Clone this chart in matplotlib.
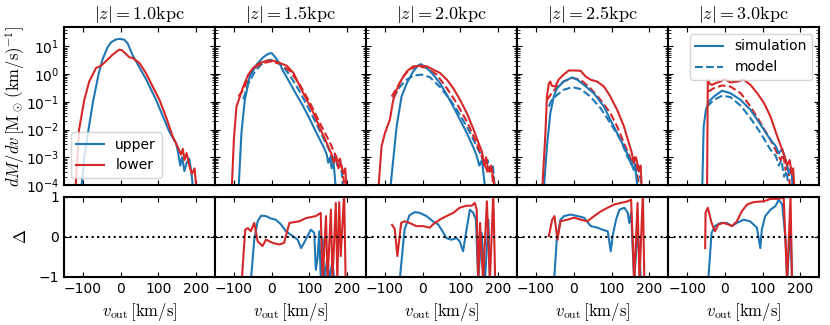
import numpy as np
import matplotlib
matplotlib.use('Agg')
import matplotlib.pyplot as plt

plt.rcParams['mathtext.fontset'] = 'cm'

# |z| of each column
heights = ['1.0', '1.5', '2.0', '2.5', '3.0']

# top row: (v_out [km/s], log10 dM/dv)
up_sim_10 = [(-105, -4.3), (-96, -2.98), (-85, -2.01), (-73, -1.0), (-58, 0.01), (-48, 0.52), (-35, 0.95),
             (-25, 1.15), (-12, 1.25), (-2, 1.27), (10, 1.24), (19, 1.1), (32, 0.68), (68, -0.2), (94, -0.93),
             (116, -1.65), (129, -2.07), (147, -2.5), (152, -2.8), (158, -3.3), (163, -3.0), (169, -3.5),
             (175, -3.2), (182, -3.05), (188, -3.6), (193, -4.3)]
low_sim_10 = [(-120, -4.3), (-110, -2.01), (-96, -0.93), (-83, -0.27), (-65, 0.22), (-52, 0.30), (-39, 0.46),
              (-21, 0.70), (-4, 0.88), (4, 0.86), (10, 0.78), (23, 0.61), (32, 0.58), (50, 0.40), (67, 0.04),
              (85, -0.45), (103, -0.93), (120, -1.53), (138, -2.25), (151, -2.61), (160, -2.9), (165, -2.7),
              (169, -3.1), (175, -2.85), (182, -3.3), (189, -3.6), (196, -3.4), (202, -4.3)]

up_sim_15 = [(-88, -4.3), (-80, -2.13), (-71, -0.93), (-58, -0.08), (-40, 0.34), (-22, 0.61), (-9, 0.73),
             (0, 0.76), (9, 0.62), (22, 0.36), (31, 0.10), (49, -0.33), (66, -0.75), (84, -1.17), (102, -1.65),
             (119, -2.13), (137, -2.61), (146, -2.9), (150, -3.2), (155, -3.0), (159, -3.4), (164, -3.2),
             (168, -3.8), (171, -4.3)]
up_mod_15 = [(-75, -0.9), (-62, -0.35), (-44, 0.1), (-27, 0.35), (-9, 0.5), (4, 0.52), (18, 0.42), (35, 0.2),
             (53, -0.15), (71, -0.55), (88, -0.98), (106, -1.45), (124, -1.95), (142, -2.45), (155, -2.8),
             (162, -3.2), (168, -2.9), (174, -3.3), (181, -3.1), (186, -3.6), (190, -4.3)]
low_sim_15 = [(-106, -4.3), (-100, -2.37), (-93, -1.17), (-84, -0.81), (-75, -0.45), (-62, -0.02), (-49, 0.22),
              (-31, 0.40), (-13, 0.48), (4, 0.48), (22, 0.40), (40, 0.30), (58, 0.04), (75, -0.45), (93, -0.93),
              (111, -1.41), (128, -1.95), (146, -2.49), (159, -2.9), (165, -3.2), (171, -2.95), (177, -3.4),
              (183, -3.2), (190, -3.6), (195, -3.4), (199, -4.3)]
low_mod_15 = [(-88, -0.81), (-75, -0.57), (-58, -0.02), (-40, 0.28), (-22, 0.40), (0, 0.46), (22, 0.36),
              (49, 0.10), (75, -0.39), (102, -1.05), (128, -1.77), (155, -2.49), (168, -2.9), (174, -3.2),
              (181, -3.05), (188, -3.5), (195, -4.3)]

up_sim_20 = [(-87, -4.3), (-78, -3.1), (-69, -1.89), (-56, -0.81), (-42, -0.33), (-25, 0.10), (-12, 0.31),
             (-5, 0.36), (11, 0.22), (28, -0.02), (46, -0.33), (64, -0.75), (81, -1.17), (99, -1.65),
             (117, -2.13), (135, -2.67), (143, -2.95), (150, -3.3), (157, -3.1), (161, -3.6), (167, -4.3)]
up_mod_20 = [(-78, -0.87), (-60, -0.45), (-42, -0.20), (-25, -0.06), (-3, -0.02), (19, -0.11), (46, -0.47),
             (73, -0.93), (99, -1.47), (126, -2.13), (143, -2.61), (157, -3.0), (165, -3.3), (172, -3.1),
             (179, -3.5), (186, -3.3), (192, -4.3)]
low_sim_20 = [(-118, -4.3), (-109, -2.61), (-100, -2.13), (-87, -1.65), (-78, -0.93), (-69, -0.57), (-56, -0.20),
              (-42, 0.10), (-25, 0.28), (-7, 0.30), (11, 0.28), (28, 0.16), (46, 0.04), (64, -0.20), (81, -0.51),
              (99, -0.93), (117, -1.41), (135, -2.01), (148, -2.49), (157, -2.8), (163, -3.3), (168, -3.0),
              (174, -3.5), (181, -3.3), (188, -3.8), (192, -4.3)]
low_mod_20 = [(-82, -0.81), (-69, -0.51), (-51, -0.08), (-34, 0.18), (-12, 0.28), (11, 0.22), (37, -0.02),
              (64, -0.51), (90, -1.05), (117, -1.71), (139, -2.37), (157, -2.98), (165, -3.3), (174, -3.6),
              (183, -3.4), (188, -4.3)]

up_sim_25 = [(-80, -4.3), (-71, -2.61), (-62, -1.41), (-53, -0.81), (-44, -0.51), (-27, -0.27), (-4, -0.12),
             (9, -0.2), (27, -0.39), (53, -0.69), (80, -1.17), (97, -1.65), (115, -2.13), (133, -2.61),
             (146, -3.0), (152, -3.25), (159, -3.1), (165, -3.6), (170, -4.3)]
up_mod_25 = [(-66, -1.17), (-58, -0.93), (-44, -0.75), (-27, -0.57), (-4, -0.47), (18, -0.54), (44, -0.81),
             (71, -1.23), (97, -1.77), (124, -2.37), (142, -2.98), (152, -3.2), (159, -3.46), (168, -3.3),
             (177, -3.8), (181, -4.3)]
low_sim_25 = [(-84, -4.3), (-75, -2.13), (-71, -0.81), (-66, -0.33), (-62, -0.27), (-58, -0.42), (-49, -0.45),
              (-40, -0.20), (-27, -0.02), (-13, 0.13), (0, 0.13), (18, 0.12), (31, -0.08), (44, -0.20),
              (62, -0.27), (80, -0.45), (97, -0.81), (115, -1.29), (133, -1.89), (146, -2.49), (153, -2.8),
              (159, -3.2), (165, -3.0), (173, -3.5), (177, -3.3), (181, -4.3)]
low_mod_25 = [(-71, -0.93), (-58, -0.69), (-44, -0.45), (-27, -0.27), (-4, -0.14), (18, -0.20), (44, -0.51),
              (71, -0.93), (97, -1.41), (115, -1.89), (133, -2.49), (146, -2.9), (155, -3.2), (161, -3.0),
              (168, -3.6), (175, -4.3)]

up_sim_30 = [(-60, -4.3), (-56, -1.89), (-50, -1.29), (-42, -0.99), (-29, -0.81), (-7, -0.60), (15, -0.69),
             (42, -0.93), (68, -1.29), (95, -1.83), (121, -2.37), (135, -2.6), (143, -2.86), (152, -2.7),
             (161, -3.1), (170, -3.58), (176, -3.4), (181, -4.3)]
up_mod_30 = [(-47, -1.17), (-29, -0.93), (-7, -0.78), (15, -0.83), (42, -1.14), (68, -1.59), (95, -2.13),
             (121, -2.73), (135, -2.95), (143, -3.3), (150, -3.1), (157, -3.7), (164, -3.5), (170, -4.3)]
low_sim_30 = [(-47, -4.3), (-45, -0.2), (-40, -0.35), (-34, -0.39), (-25, -0.33), (-12, -0.27), (-1, -0.18),
              (15, -0.30), (33, -0.27), (50, -0.20), (68, -0.39), (86, -0.69), (104, -1.05), (121, -1.53),
              (139, -2.25), (152, -2.73), (159, -3.0), (165, -3.3), (172, -3.1), (177, -3.6), (181, -3.4),
              (185, -4.3)]
low_mod_30 = [(-44, -0.63), (-29, -0.51), (-7, -0.41), (15, -0.45), (42, -0.69), (68, -1.17), (95, -1.77),
              (121, -2.37), (139, -2.86), (148, -3.1), (155, -2.9), (161, -3.46), (168, -3.3), (174, -4.3)]

# bottom row: (v_out, Delta)
up_delta_15 = [(-55, -1.1), (-46, -0.07), (-37, 0.39), (-28, 0.53), (-15, 0.52), (-2, 0.46), (11, 0.43),
               (25, 0.31), (38, 0.14), (56, 0.02), (69, -0.07), (78, -0.28), (86, -0.15), (95, 0.02),
               (104, 0.18), (113, 0.1), (117, -0.82), (122, -0.5), (126, 0.14), (130, -1.0), (135, -0.03),
               (139, -1.1), (148, -0.5), (152, -1.1), (161, -0.6), (166, -1.1)]
low_delta_15 = [(-79, -1.1), (-70, 0.18), (-63, 0.22), (-55, 0.14), (-46, 0.35), (-37, -0.11), (-24, -0.23),
                (-15, -0.07), (3, -0.15), (20, -0.19), (33, -0.15), (47, 0.35), (73, 0.39), (91, 0.47),
                (117, 0.52), (130, 0.6), (135, -1.1), (144, 0.52), (148, -1.1), (157, 0.68), (161, -1.1),
                (170, 0.85), (174, -1.1), (179, 0.87), (183, -0.48), (192, 1.1), (196, -1.1)]
up_delta_20 = [(-61, -1.1), (-48, 0.18), (-35, 0.54), (-21, 0.62), (-8, 0.6), (10, 0.52), (27, 0.39),
               (41, 0.31), (50, 0.18), (63, -0.03), (76, -0.07), (90, -0.03), (98, -0.11), (107, -0.36),
               (116, 0.18), (125, 0.68), (134, 0.6), (141, 0.43), (147, -1.1), (156, 0.1), (165, -1.1),
               (174, 0.43), (178, -1.1)]
low_delta_20 = [(-81, 0.3), (-74, 0.2), (-67, -0.48), (-57, 0.35), (-48, 0.39), (-35, 0.35), (-17, 0.27),
                (1, 0.27), (19, 0.23), (27, 0.31), (45, 0.43), (63, 0.52), (81, 0.6), (98, 0.73), (116, 0.78),
                (130, 0.78), (138, 0.85), (143, 0.68), (147, -1.1), (152, 0.35), (160, -1.1), (170, 0.89),
                (178, -1.1), (187, 1.1), (192, -1.1)]
up_delta_25 = [(-52, -1.1), (-45, -0.07), (-35, 0.43), (-26, 0.52), (-8, 0.56), (10, 0.52), (27, 0.48),
               (45, 0.27), (63, 0.23), (76, 0.18), (90, 0.14), (98, -0.36), (103, 0.02), (112, 0.43),
               (121, 0.68), (134, 0.73), (143, 0.6), (147, 0.35), (152, 0.6), (160, -1.1), (169, 0.18),
               (178, -1.1)]
low_delta_25 = [(-66, 0.02), (-57, 0.43), (-51, 0.52), (-43, -0.07), (-35, 0.39), (-17, 0.43), (1, 0.48),
                (19, 0.43), (36, 0.39), (54, 0.52), (72, 0.64), (90, 0.73), (107, 0.81), (125, 0.85),
                (143, 0.89), (152, 0.93), (160, -1.1), (169, 0.85), (174, -1.1), (183, 1.1), (187, -1.1)]
up_delta_30 = [(-44, -1.1), (-35, 0.1), (-26, 0.27), (-12, 0.35), (5, 0.35), (19, 0.27), (32, 0.35),
               (50, 0.43), (67, 0.39), (85, 0.23), (94, -0.28), (98, 0.18), (107, 0.52), (121, 0.68),
               (134, 0.77), (143, 0.93), (152, 0.81), (161, -0.07), (165, -1.1), (174, 0.35), (178, -1.1)]
low_delta_30 = [(-52, -0.28), (-51, 0.6), (-45, 0.73), (-35, 0.35), (-26, 0.14), (-17, 0.31), (-4, 0.35),
                (10, 0.31), (19, 0.27), (32, 0.39), (45, 0.64), (59, 0.81), (76, 0.87), (103, 0.89),
                (121, 0.95), (138, 0.95), (156, 0.98), (165, -1.1), (174, 1.0), (178, -1.1)]

top_curves = [
    (up_sim_10, None, low_sim_10, None),
    (up_sim_15, up_mod_15, low_sim_15, low_mod_15),
    (up_sim_20, up_mod_20, low_sim_20, low_mod_20),
    (up_sim_25, up_mod_25, low_sim_25, low_mod_25),
    (up_sim_30, up_mod_30, low_sim_30, low_mod_30),
]
bottom_curves = [(None, None), (up_delta_15, low_delta_15), (up_delta_20, low_delta_20),
                 (up_delta_25, low_delta_25), (up_delta_30, low_delta_30)]

c_up = '#1f77b4'
c_low = '#d62728'

fig, axes = plt.subplots(2, 5, figsize=(8.3, 3.25), dpi=100, sharex=True,
                         gridspec_kw=dict(height_ratios=[158, 80], hspace=0.1, wspace=0))
fig.subplots_adjust(left=0.077, right=0.987, top=0.917, bottom=0.148)


def plot_log(ax, pts, color, ls):
    if pts is None:
        return
    v = [p[0] for p in pts]
    y = [10.0 ** p[1] for p in pts]
    ax.plot(v, y, color=color, ls=ls, lw=1.5)


def plot_lin(ax, pts, color):
    if pts is None:
        return
    ax.plot([p[0] for p in pts], [p[1] for p in pts], color=color, lw=1.5)


for i in range(5):
    ax = axes[0, i]
    us, um, ls_, lm = top_curves[i]
    plot_log(ax, um, c_up, '--')
    plot_log(ax, lm, c_low, '--')
    l1, = ax.plot([p[0] for p in us], [10.0 ** p[1] for p in us], color=c_up, lw=1.5, label='upper')
    l2, = ax.plot([p[0] for p in ls_], [10.0 ** p[1] for p in ls_], color=c_low, lw=1.5, label='lower')
    ax.set_yscale('log')
    ax.set_ylim(1e-4, 50)
    ax.set_title(r'$|z|=%s{\rm kpc}$' % heights[i], fontsize=13)
    if i == 0:
        ax.legend(loc='lower left', fontsize=10)
        ax.set_ylabel(r'$dM/dv\,[{\rm M_\odot\,(km/s)^{-1}}]$', fontsize=12)
        ax.yaxis.set_label_coords(-0.245, 0.5)
    else:
        ax.set_yticklabels([])
    if i == 4:
        h1, = ax.plot([], [], color=c_up, lw=1.5, label='simulation')
        h2, = ax.plot([], [], color=c_up, lw=1.5, ls='--', label='model')
        ax.legend(handles=[h1, h2], loc='upper right', fontsize=10)

    bx = axes[1, i]
    ud, ld = bottom_curves[i]
    plot_lin(bx, ud, c_up)
    plot_lin(bx, ld, c_low)
    bx.axhline(0, color='k', ls=':', lw=1.5)
    bx.set_ylim(-1, 1)
    bx.set_yticks([-1, 0, 1])
    bx.set_xlabel(r'$v_{\rm out}\,[{\rm km/s}]$', fontsize=12)
    if i == 0:
        bx.set_ylabel(r'$\Delta$', fontsize=12)
        bx.yaxis.set_label_coords(-0.225, 0.5)
    else:
        bx.set_yticklabels([])

for ax in axes.flat:
    ax.set_xlim(-150, 250)
    ax.set_xticks([-100, 0, 100, 200])
    ax.tick_params(which='both', direction='in', top=True, right=True, labelsize=10)
    for s in ax.spines.values():
        s.set_linewidth(1.5)

plt.savefig('out.png', dpi=100)
